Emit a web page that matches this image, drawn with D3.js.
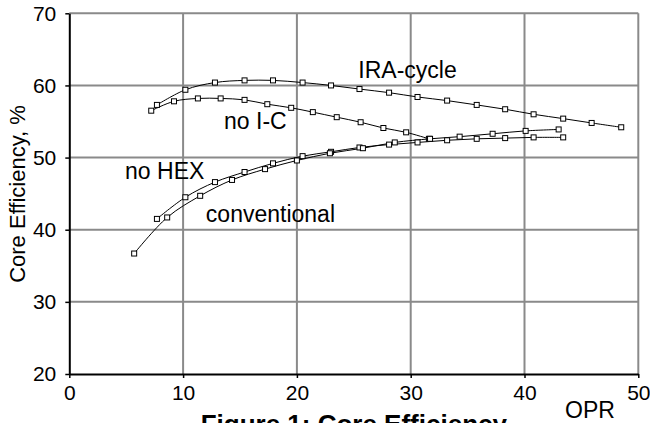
<!DOCTYPE html>
<html>
<head>
<meta charset="utf-8">
<title>Core Efficiency</title>
<style>
  body { margin: 0; background: #fff; }
  svg { display: block; font-family: "Liberation Sans", Arial, sans-serif; }
</style>
</head>
<body>
<script src="https://d3js.org/d3.v7.min.js"></script>
<div id="chart"></div>
<script>
// values (OPR, core efficiency %)
var iraOpr = [7.7, 10.2, 12.8, 15.4, 17.9, 20.5, 23.0, 25.5, 28.1, 30.6, 33.2, 35.8, 38.3, 40.8, 43.4, 45.9, 48.5];
var iraEff = [57.3, 59.4, 60.4, 60.7, 60.7, 60.4, 60.0, 59.5, 59.0, 58.4, 57.9, 57.3, 56.7, 56.0, 55.4, 54.8, 54.2];

var noicOpr = [7.2, 9.2, 11.3, 13.3, 15.4, 17.4, 19.5, 21.4, 23.5, 25.6, 27.6, 29.6, 31.6];
var noicEff = [56.5, 57.8, 58.2, 58.2, 58.0, 57.4, 56.9, 56.3, 55.6, 54.9, 54.1, 53.5, 52.6];

var nohexOpr = [7.7, 10.2, 12.8, 15.4, 17.9, 20.5, 23.0, 25.5, 28.1, 30.6, 33.2, 35.8, 38.3, 40.8, 43.4];
var nohexEff = [41.5, 44.5, 46.6, 48.0, 49.2, 50.2, 50.8, 51.4, 51.8, 52.1, 52.4, 52.6, 52.7, 52.8, 52.8];

var convOpr = [5.7, 8.6, 11.5, 14.3, 17.2, 20.0, 22.9, 25.8, 28.6, 31.7, 34.3, 37.2, 40.1, 43.0];
var convEff = [36.7, 41.7, 44.7, 46.9, 48.4, 49.6, 50.6, 51.3, 52.1, 52.6, 52.9, 53.3, 53.7, 53.9];

var xTicks = [0, 10, 20, 30, 40, 50];
var yTicks = [20, 30, 40, 50, 60, 70];

// curve labels, placed in data units (start of text, baseline)
var labelText = ["IRA-cycle", "no I-C", "no HEX", "conventional"];
var labelOpr = [25.4, 13.6, 4.9, 12.0];
var labelEff = [61.1, 53.9, 47.1, 41.1];

var width = 650, height = 423;

var svg = d3.select("#chart").append("svg")
    .attr("width", width)
    .attr("height", height);

var x = d3.scaleLinear().domain([0, 50]).range([69.3, 638.3]);
var y = d3.scaleLinear().domain([20, 70]).range([374, 13.3]);

// grid
svg.append("g").selectAll("line.v")
    .data(xTicks.filter(d => d > 0))
    .enter().append("line")
    .attr("x1", d => x(d)).attr("x2", d => x(d))
    .attr("y1", y(20)).attr("y2", y(70))
    .attr("stroke", "#8a8a8a").attr("stroke-width", 2);
svg.append("g").selectAll("line.h")
    .data(yTicks.filter(d => d > 20))
    .enter().append("line")
    .attr("x1", x(0)).attr("x2", x(50))
    .attr("y1", d => y(d)).attr("y2", d => y(d))
    .attr("stroke", "#8a8a8a").attr("stroke-width", 2);

// axes
var xAxis = svg.append("g")
    .attr("transform", "translate(0," + y(20) + ")")
    .call(d3.axisBottom(x).tickValues(xTicks).tickSize(4).tickPadding(7).tickSizeOuter(0));
var yAxis = svg.append("g")
    .attr("transform", "translate(" + x(0) + ",0)")
    .call(d3.axisLeft(y).tickValues(yTicks).tickSize(4).tickPadding(9).tickSizeOuter(0));

[xAxis, yAxis].forEach(function(a) {
    a.select(".domain").attr("stroke", "#000").attr("stroke-width", 2);
    a.selectAll(".tick line").attr("stroke", "#000").attr("stroke-width", 1.5);
    a.selectAll("text")
        .attr("font-family", "Liberation Sans, Arial, sans-serif")
        .attr("font-size", 21)
        .attr("fill", "#000");
});
yAxis.selectAll("text").attr("dy", "0.33em");

// series
var series = [
    { opr: iraOpr, eff: iraEff },
    { opr: noicOpr, eff: noicEff },
    { opr: nohexOpr, eff: nohexEff },
    { opr: convOpr, eff: convEff }
];

var line = d3.line()
    .x(d => x(d[0]))
    .y(d => y(d[1]))
    .curve(d3.curveCatmullRom.alpha(0.5));

series.forEach(function(s) {
    var pts = s.opr.map((v, i) => [v, s.eff[i]]);
    svg.append("path")
        .datum(pts)
        .attr("d", line)
        .attr("fill", "none")
        .attr("stroke", "#000")
        .attr("stroke-width", 1);
});
series.forEach(function(s) {
    var pts = s.opr.map((v, i) => [v, s.eff[i]]);
    svg.append("g").selectAll("rect")
        .data(pts)
        .enter().append("rect")
        .attr("x", d => x(d[0]) - 2.5)
        .attr("y", d => y(d[1]) - 2.5)
        .attr("width", 5)
        .attr("height", 5)
        .attr("fill", "#fff")
        .attr("stroke", "#000")
        .attr("stroke-width", 1);
});

// curve labels
svg.append("g").selectAll("text")
    .data(labelText)
    .enter().append("text")
    .attr("x", (d, i) => x(labelOpr[i]))
    .attr("y", (d, i) => y(labelEff[i]))
    .attr("font-size", 23)
    .text(d => d);

// axis titles
svg.append("text")
    .attr("transform", "translate(25,194) rotate(-90)")
    .attr("text-anchor", "middle")
    .attr("font-size", 22)
    .text("Core Efficiency, %");

svg.append("text")
    .attr("x", 565)
    .attr("y", 418.3)
    .attr("font-size", 23)
    .text("OPR");

// figure caption, cut off by the window bottom as in the source
svg.append("text")
    .attr("x", (x(0) + x(50)) / 2)
    .attr("y", 433)
    .attr("text-anchor", "middle")
    .attr("font-size", 26)
    .attr("font-weight", "bold")
    .text("Figure 1: Core Efficiency");
</script>
</body>
</html>
